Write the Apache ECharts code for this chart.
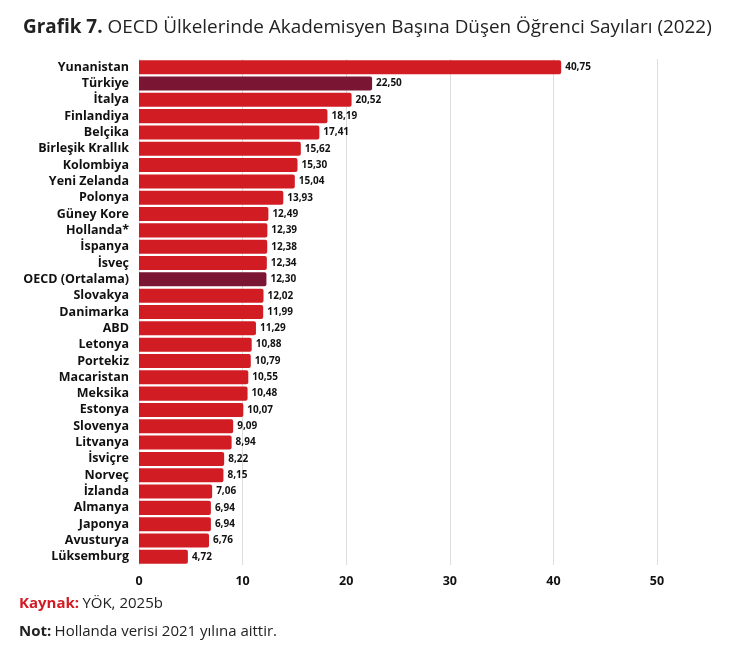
<!DOCTYPE html>
<html><head><meta charset="utf-8">
<script src="https://cdn.jsdelivr.net/npm/echarts@6/dist/echarts.min.js"></script>
<style>html,body{margin:0;padding:0;background:#fff}#c{width:744px;height:649px}</style>
</head><body><div id="c"></div>
<script>
var categories = ["Yunanistan","Türkiye","İtalya","Finlandiya","Belçika","Birleşik Krallık","Kolombiya","Yeni Zelanda","Polonya","Güney Kore","Hollanda*","İspanya","İsveç","OECD (Ortalama)","Slovakya","Danimarka","ABD","Letonya","Portekiz","Macaristan","Meksika","Estonya","Slovenya","Litvanya","İsviçre","Norveç","İzlanda","Almanya","Japonya","Avusturya","Lüksemburg"];
var values = [40.75,22.50,20.52,18.19,17.41,15.62,15.30,15.04,13.93,12.49,12.39,12.38,12.34,12.30,12.02,11.99,11.29,10.88,10.79,10.55,10.48,10.07,9.09,8.94,8.22,8.15,7.06,6.94,6.94,6.76,4.72];
var highlighted = ["Türkiye","OECD (Ortalama)"];
var xTicks = [0,10,20,30,40,50];
var FONT = "'Open Sans', 'DejaVu Sans', sans-serif";
var chart = echarts.init(document.getElementById('c'), null, {renderer:'canvas'});
chart.setOption({
  animation:false,
  title:{
    text:'{b|Grafik 7.} {r|OECD Ülkelerinde Akademisyen Başına Düşen Öğrenci Sayıları (2022)}',
    left:18, top:13,
    textStyle:{rich:{
      b:{fontFamily:FONT,fontWeight:'bold',fontSize:18.9,color:'#222'},
      r:{fontFamily:FONT,fontWeight:'normal',fontSize:18.9,color:'#222'}
    }}
  },
  graphic:[
    {type:'text',left:19,top:596,style:{rich:{k:{fill:'#d21c24',fontWeight:'bold',fontSize:15,fontFamily:FONT},t:{fill:'#222',fontSize:15,fontFamily:FONT}},text:'{k|Kaynak:} {t|YÖK, 2025b}'}},
    {type:'text',left:19,top:624,style:{rich:{k:{fill:'#222',fontWeight:'bold',fontSize:15,fontFamily:FONT},t:{fill:'#222',fontSize:15,fontFamily:FONT}},text:'{k|Not:} {t|Hollanda verisi 2021 yılına aittir.}'}}
  ],
  grid:{left:139,right:87,top:59,bottom:84,containLabel:false},
  xAxis:{
    type:'value',min:0,max:50,interval:10,
    axisLine:{show:false},axisTick:{show:false},
    splitLine:{lineStyle:{color:'#dddddd',width:1}},
    axisLabel:{fontFamily:FONT,fontWeight:'bold',fontSize:12.5,color:'#111',margin:10,
      formatter:function(v){return xTicks.indexOf(v)>=0?String(v):'';}}
  },
  yAxis:{
    type:'category',data:categories,inverse:true,
    axisLine:{show:false},axisTick:{show:false},
    axisLabel:{interval:0,fontFamily:FONT,fontWeight:'bold',fontSize:12.5,color:'#111',margin:10}
  },
  series:[{
    type:'bar',
    data:values.map(function(v,i){
      return {value:v,itemStyle:{color:highlighted.indexOf(categories[i])>=0?'#7a1633':'#d21c24'}};
    }),
    barCategoryGap:'14%',
    itemStyle:{borderRadius:[0,2,2,0]},
    label:{show:true,position:'right',distance:4,fontFamily:FONT,fontWeight:'bold',fontSize:10,color:'#111',
      formatter:function(p){return p.value.toFixed(2).replace('.',',');}}
  }]
});
</script></body></html>
